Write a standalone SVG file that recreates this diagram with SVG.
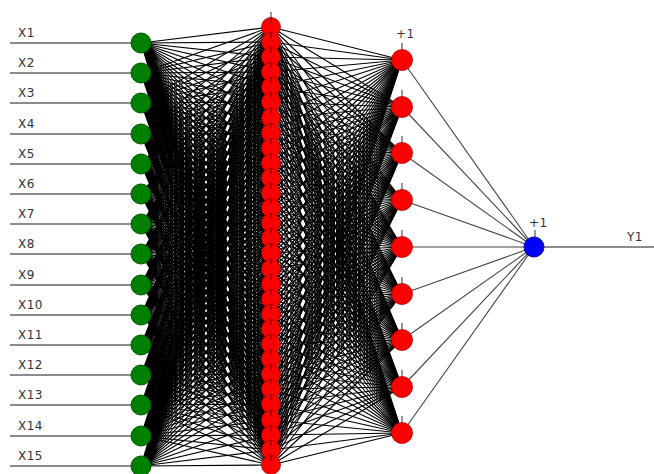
<svg xmlns="http://www.w3.org/2000/svg" xmlns:xlink="http://www.w3.org/1999/xlink" width="654" height="474" viewBox="0 0 654 474">
<style>
.conn{stroke:#000;stroke-width:1.1;fill:none;vector-effect:non-scaling-stroke}
.conn2{stroke:#444;stroke-width:1.1;fill:none}
.in{fill:#008000;stroke:#005a00;stroke-width:1}
.h{fill:#ff0000;stroke:#b00000;stroke-width:0.8}
.out{fill:#0000ff;stroke:#0000a0;stroke-width:1}
.lbl{font-family:"DejaVu Sans",sans-serif;font-size:12px;fill:#333;letter-spacing:0.5px}
.wire{stroke:#666;stroke-width:1.5}
.tick{stroke:#777;stroke-width:1.5}
.htick{stroke:#5a1010;stroke-width:1}
</style>
<defs>
<path id="fan1" class="conn" d="M0 0L130 27M0 0L130 42M0 0L130 57M0 0L130 72M0 0L130 87M0 0L130 102M0 0L130 118M0 0L130 133M0 0L130 148M0 0L130 163M0 0L130 178M0 0L130 193M0 0L130 208M0 0L130 223M0 0L130 238M0 0L130 253M0 0L130 269M0 0L130 284M0 0L130 299M0 0L130 314M0 0L130 329M0 0L130 344M0 0L130 359M0 0L130 374M0 0L130 389M0 0L130 404M0 0L130 420M0 0L130 435M0 0L130 450M0 0L130 465"/>
<path id="fan2" class="conn" d="M0 0L131 60M0 0L131 107M0 0L131 153M0 0L131 200M0 0L131 247M0 0L131 294M0 0L131 340M0 0L131 387M0 0L131 433"/>
</defs>
<rect width="654" height="474" fill="#fff"/>
<g id="connectors">
<g id="wires-in">
<line class="wire" x1="10" y1="43" x2="141" y2="43"/>
<line class="wire" x1="10" y1="73" x2="141" y2="73"/>
<line class="wire" x1="10" y1="103" x2="141" y2="103"/>
<line class="wire" x1="10" y1="134" x2="141" y2="134"/>
<line class="wire" x1="10" y1="164" x2="141" y2="164"/>
<line class="wire" x1="10" y1="194" x2="141" y2="194"/>
<line class="wire" x1="10" y1="224" x2="141" y2="224"/>
<line class="wire" x1="10" y1="254" x2="141" y2="254"/>
<line class="wire" x1="10" y1="285" x2="141" y2="285"/>
<line class="wire" x1="10" y1="315" x2="141" y2="315"/>
<line class="wire" x1="10" y1="345" x2="141" y2="345"/>
<line class="wire" x1="10" y1="375" x2="141" y2="375"/>
<line class="wire" x1="10" y1="405" x2="141" y2="405"/>
<line class="wire" x1="10" y1="436" x2="141" y2="436"/>
<line class="wire" x1="10" y1="466" x2="141" y2="466"/>
<line class="wire" x1="534" y1="247" x2="654" y2="247"/>
</g>
<g id="input-to-hidden1">
<use xlink:href="#fan1" transform="matrix(1 -0.330769 0 1 141 43)"/>
<use xlink:href="#fan1" transform="matrix(1 -0.561538 0 1 141 73)"/>
<use xlink:href="#fan1" transform="matrix(1 -0.792308 0 1 141 103)"/>
<use xlink:href="#fan1" transform="matrix(1 -1.030769 0 1 141 134)"/>
<use xlink:href="#fan1" transform="matrix(1 -1.261538 0 1 141 164)"/>
<use xlink:href="#fan1" transform="matrix(1 -1.492308 0 1 141 194)"/>
<use xlink:href="#fan1" transform="matrix(1 -1.723077 0 1 141 224)"/>
<use xlink:href="#fan1" transform="matrix(1 -1.953846 0 1 141 254)"/>
<use xlink:href="#fan1" transform="matrix(1 -2.192308 0 1 141 285)"/>
<use xlink:href="#fan1" transform="matrix(1 -2.423077 0 1 141 315)"/>
<use xlink:href="#fan1" transform="matrix(1 -2.653846 0 1 141 345)"/>
<use xlink:href="#fan1" transform="matrix(1 -2.884615 0 1 141 375)"/>
<use xlink:href="#fan1" transform="matrix(1 -3.115385 0 1 141 405)"/>
<use xlink:href="#fan1" transform="matrix(1 -3.353846 0 1 141 436)"/>
<use xlink:href="#fan1" transform="matrix(1 -3.584615 0 1 141 466)"/>
</g>
<g id="hidden1-to-hidden2">
<use xlink:href="#fan2" transform="matrix(1 -0.206107 0 1 271 27)"/>
<use xlink:href="#fan2" transform="matrix(1 -0.320611 0 1 271 42)"/>
<use xlink:href="#fan2" transform="matrix(1 -0.435115 0 1 271 57)"/>
<use xlink:href="#fan2" transform="matrix(1 -0.549618 0 1 271 72)"/>
<use xlink:href="#fan2" transform="matrix(1 -0.664122 0 1 271 87)"/>
<use xlink:href="#fan2" transform="matrix(1 -0.778626 0 1 271 102)"/>
<use xlink:href="#fan2" transform="matrix(1 -0.900763 0 1 271 118)"/>
<use xlink:href="#fan2" transform="matrix(1 -1.015267 0 1 271 133)"/>
<use xlink:href="#fan2" transform="matrix(1 -1.129771 0 1 271 148)"/>
<use xlink:href="#fan2" transform="matrix(1 -1.244275 0 1 271 163)"/>
<use xlink:href="#fan2" transform="matrix(1 -1.358779 0 1 271 178)"/>
<use xlink:href="#fan2" transform="matrix(1 -1.473282 0 1 271 193)"/>
<use xlink:href="#fan2" transform="matrix(1 -1.587786 0 1 271 208)"/>
<use xlink:href="#fan2" transform="matrix(1 -1.702290 0 1 271 223)"/>
<use xlink:href="#fan2" transform="matrix(1 -1.816794 0 1 271 238)"/>
<use xlink:href="#fan2" transform="matrix(1 -1.931298 0 1 271 253)"/>
<use xlink:href="#fan2" transform="matrix(1 -2.053435 0 1 271 269)"/>
<use xlink:href="#fan2" transform="matrix(1 -2.167939 0 1 271 284)"/>
<use xlink:href="#fan2" transform="matrix(1 -2.282443 0 1 271 299)"/>
<use xlink:href="#fan2" transform="matrix(1 -2.396947 0 1 271 314)"/>
<use xlink:href="#fan2" transform="matrix(1 -2.511450 0 1 271 329)"/>
<use xlink:href="#fan2" transform="matrix(1 -2.625954 0 1 271 344)"/>
<use xlink:href="#fan2" transform="matrix(1 -2.740458 0 1 271 359)"/>
<use xlink:href="#fan2" transform="matrix(1 -2.854962 0 1 271 374)"/>
<use xlink:href="#fan2" transform="matrix(1 -2.969466 0 1 271 389)"/>
<use xlink:href="#fan2" transform="matrix(1 -3.083969 0 1 271 404)"/>
<use xlink:href="#fan2" transform="matrix(1 -3.206107 0 1 271 420)"/>
<use xlink:href="#fan2" transform="matrix(1 -3.320611 0 1 271 435)"/>
<use xlink:href="#fan2" transform="matrix(1 -3.435115 0 1 271 450)"/>
<use xlink:href="#fan2" transform="matrix(1 -3.549618 0 1 271 465)"/>
</g>
<g id="hidden2-to-output">
<path class="conn2" d="M402 60L534 247M402 107L534 247M402 153L534 247M402 200L534 247M402 247L534 247M402 294L534 247M402 340L534 247M402 387L534 247M402 433L534 247"/>
</g>
</g>
<g id="inputs">
<g id="x1"><text class="lbl" x="18" y="37">X1</text><circle class="in" cx="141" cy="43" r="10"/></g>
<g id="x2"><text class="lbl" x="18" y="67">X2</text><circle class="in" cx="141" cy="73" r="10"/></g>
<g id="x3"><text class="lbl" x="18" y="97">X3</text><circle class="in" cx="141" cy="103" r="10"/></g>
<g id="x4"><text class="lbl" x="18" y="128">X4</text><circle class="in" cx="141" cy="134" r="10"/></g>
<g id="x5"><text class="lbl" x="18" y="158">X5</text><circle class="in" cx="141" cy="164" r="10"/></g>
<g id="x6"><text class="lbl" x="18" y="188">X6</text><circle class="in" cx="141" cy="194" r="10"/></g>
<g id="x7"><text class="lbl" x="18" y="218">X7</text><circle class="in" cx="141" cy="224" r="10"/></g>
<g id="x8"><text class="lbl" x="18" y="248">X8</text><circle class="in" cx="141" cy="254" r="10"/></g>
<g id="x9"><text class="lbl" x="18" y="279">X9</text><circle class="in" cx="141" cy="285" r="10"/></g>
<g id="x10"><text class="lbl" x="18" y="309">X10</text><circle class="in" cx="141" cy="315" r="10"/></g>
<g id="x11"><text class="lbl" x="18" y="339">X11</text><circle class="in" cx="141" cy="345" r="10"/></g>
<g id="x12"><text class="lbl" x="18" y="369">X12</text><circle class="in" cx="141" cy="375" r="10"/></g>
<g id="x13"><text class="lbl" x="18" y="399">X13</text><circle class="in" cx="141" cy="405" r="10"/></g>
<g id="x14"><text class="lbl" x="18" y="430">X14</text><circle class="in" cx="141" cy="436" r="10"/></g>
<g id="x15"><text class="lbl" x="18" y="460">X15</text><circle class="in" cx="141" cy="466" r="10"/></g>
</g>
<g id="hidden1">
<line class="tick" x1="271" y1="12" x2="271" y2="18"/>
<g id="h1-1"><circle class="h" cx="271" cy="27" r="9.5"/><line class="htick" x1="271" y1="17" x2="271" y2="23"/></g>
<g id="h1-2"><circle class="h" cx="271" cy="42" r="9.5"/><line class="htick" x1="271" y1="32" x2="271" y2="38"/></g>
<g id="h1-3"><circle class="h" cx="271" cy="57" r="9.5"/><line class="htick" x1="271" y1="47" x2="271" y2="53"/></g>
<g id="h1-4"><circle class="h" cx="271" cy="72" r="9.5"/><line class="htick" x1="271" y1="62" x2="271" y2="68"/></g>
<g id="h1-5"><circle class="h" cx="271" cy="87" r="9.5"/><line class="htick" x1="271" y1="77" x2="271" y2="83"/></g>
<g id="h1-6"><circle class="h" cx="271" cy="102" r="9.5"/><line class="htick" x1="271" y1="92" x2="271" y2="98"/></g>
<g id="h1-7"><circle class="h" cx="271" cy="118" r="9.5"/><line class="htick" x1="271" y1="108" x2="271" y2="114"/></g>
<g id="h1-8"><circle class="h" cx="271" cy="133" r="9.5"/><line class="htick" x1="271" y1="123" x2="271" y2="129"/></g>
<g id="h1-9"><circle class="h" cx="271" cy="148" r="9.5"/><line class="htick" x1="271" y1="138" x2="271" y2="144"/></g>
<g id="h1-10"><circle class="h" cx="271" cy="163" r="9.5"/><line class="htick" x1="271" y1="153" x2="271" y2="159"/></g>
<g id="h1-11"><circle class="h" cx="271" cy="178" r="9.5"/><line class="htick" x1="271" y1="168" x2="271" y2="174"/></g>
<g id="h1-12"><circle class="h" cx="271" cy="193" r="9.5"/><line class="htick" x1="271" y1="183" x2="271" y2="189"/></g>
<g id="h1-13"><circle class="h" cx="271" cy="208" r="9.5"/><line class="htick" x1="271" y1="198" x2="271" y2="204"/></g>
<g id="h1-14"><circle class="h" cx="271" cy="223" r="9.5"/><line class="htick" x1="271" y1="213" x2="271" y2="219"/></g>
<g id="h1-15"><circle class="h" cx="271" cy="238" r="9.5"/><line class="htick" x1="271" y1="228" x2="271" y2="234"/></g>
<g id="h1-16"><circle class="h" cx="271" cy="253" r="9.5"/><line class="htick" x1="271" y1="243" x2="271" y2="249"/></g>
<g id="h1-17"><circle class="h" cx="271" cy="269" r="9.5"/><line class="htick" x1="271" y1="259" x2="271" y2="265"/></g>
<g id="h1-18"><circle class="h" cx="271" cy="284" r="9.5"/><line class="htick" x1="271" y1="274" x2="271" y2="280"/></g>
<g id="h1-19"><circle class="h" cx="271" cy="299" r="9.5"/><line class="htick" x1="271" y1="289" x2="271" y2="295"/></g>
<g id="h1-20"><circle class="h" cx="271" cy="314" r="9.5"/><line class="htick" x1="271" y1="304" x2="271" y2="310"/></g>
<g id="h1-21"><circle class="h" cx="271" cy="329" r="9.5"/><line class="htick" x1="271" y1="319" x2="271" y2="325"/></g>
<g id="h1-22"><circle class="h" cx="271" cy="344" r="9.5"/><line class="htick" x1="271" y1="334" x2="271" y2="340"/></g>
<g id="h1-23"><circle class="h" cx="271" cy="359" r="9.5"/><line class="htick" x1="271" y1="349" x2="271" y2="355"/></g>
<g id="h1-24"><circle class="h" cx="271" cy="374" r="9.5"/><line class="htick" x1="271" y1="364" x2="271" y2="370"/></g>
<g id="h1-25"><circle class="h" cx="271" cy="389" r="9.5"/><line class="htick" x1="271" y1="379" x2="271" y2="385"/></g>
<g id="h1-26"><circle class="h" cx="271" cy="404" r="9.5"/><line class="htick" x1="271" y1="394" x2="271" y2="400"/></g>
<g id="h1-27"><circle class="h" cx="271" cy="420" r="9.5"/><line class="htick" x1="271" y1="410" x2="271" y2="416"/></g>
<g id="h1-28"><circle class="h" cx="271" cy="435" r="9.5"/><line class="htick" x1="271" y1="425" x2="271" y2="431"/></g>
<g id="h1-29"><circle class="h" cx="271" cy="450" r="9.5"/><line class="htick" x1="271" y1="440" x2="271" y2="446"/></g>
<g id="h1-30"><circle class="h" cx="271" cy="465" r="9.5"/><line class="htick" x1="271" y1="455" x2="271" y2="461"/></g>
</g>
<g id="hidden2">
<text class="lbl" x="396" y="38">+1</text>
<g id="h2-1"><line class="tick" x1="402" y1="43" x2="402" y2="50"/><circle class="h" cx="402" cy="60" r="10.5"/></g>
<g id="h2-2"><line class="tick" x1="402" y1="90" x2="402" y2="97"/><circle class="h" cx="402" cy="107" r="10.5"/></g>
<g id="h2-3"><line class="tick" x1="402" y1="136" x2="402" y2="143"/><circle class="h" cx="402" cy="153" r="10.5"/></g>
<g id="h2-4"><line class="tick" x1="402" y1="183" x2="402" y2="190"/><circle class="h" cx="402" cy="200" r="10.5"/></g>
<g id="h2-5"><line class="tick" x1="402" y1="230" x2="402" y2="237"/><circle class="h" cx="402" cy="247" r="10.5"/></g>
<g id="h2-6"><line class="tick" x1="402" y1="277" x2="402" y2="284"/><circle class="h" cx="402" cy="294" r="10.5"/></g>
<g id="h2-7"><line class="tick" x1="402" y1="323" x2="402" y2="330"/><circle class="h" cx="402" cy="340" r="10.5"/></g>
<g id="h2-8"><line class="tick" x1="402" y1="370" x2="402" y2="377"/><circle class="h" cx="402" cy="387" r="10.5"/></g>
<g id="h2-9"><line class="tick" x1="402" y1="416" x2="402" y2="423"/><circle class="h" cx="402" cy="433" r="10.5"/></g>
</g>
<g id="output">
<text class="lbl" x="529" y="227">+1</text>
<line class="tick" x1="535" y1="230" x2="535" y2="237"/>
<circle class="out" cx="534" cy="247" r="10"/>
<text class="lbl" x="627" y="241">Y1</text>
</g>
</svg>
